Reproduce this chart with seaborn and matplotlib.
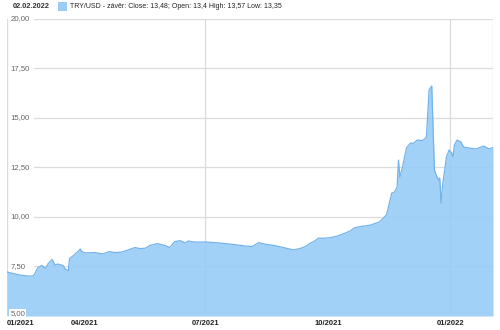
import matplotlib
matplotlib.use("Agg")
import matplotlib.pyplot as plt
import matplotlib.dates as mdates
import seaborn as sns
import pandas as pd

dates = [
    "2021-02-02", "2021-02-08", "2021-02-13", "2021-02-19", "2021-02-22", "2021-02-25",
    "2021-02-28", "2021-03-03", "2021-03-05", "2021-03-08", "2021-03-10", "2021-03-12",
    "2021-03-16", "2021-03-18", "2021-03-20", "2021-03-21", "2021-03-23", "2021-03-27",
    "2021-03-29", "2021-03-30", "2021-04-02", "2021-04-09", "2021-04-15", "2021-04-20",
    "2021-04-24", "2021-04-29", "2021-05-04", "2021-05-09", "2021-05-13", "2021-05-17",
    "2021-05-20", "2021-05-26", "2021-06-01", "2021-06-04", "2021-06-08", "2021-06-12",
    "2021-06-16", "2021-06-18", "2021-06-23", "2021-07-02", "2021-07-08", "2021-07-12",
    "2021-07-23", "2021-07-31", "2021-08-05", "2021-08-10", "2021-08-15", "2021-08-22",
    "2021-08-30", "2021-09-05", "2021-09-10", "2021-09-14", "2021-09-18", "2021-09-21",
    "2021-09-24", "2021-09-27", "2021-10-03", "2021-10-08", "2021-10-14", "2021-10-18",
    "2021-10-21", "2021-10-27", "2021-11-02", "2021-11-09", "2021-11-14", "2021-11-18",
    "2021-11-20", "2021-11-22", "2021-11-23", "2021-11-24", "2021-11-26", "2021-11-29",
    "2021-12-02", "2021-12-04", "2021-12-07", "2021-12-11", "2021-12-14", "2021-12-16",
    "2021-12-17", "2021-12-18", "2021-12-20", "2021-12-22", "2021-12-23", "2021-12-24",
    "2021-12-25", "2021-12-26", "2021-12-29", "2021-12-31", "2022-01-02", "2022-01-03",
    "2022-01-04", "2022-01-06", "2022-01-09", "2022-01-10", "2022-01-11", "2022-01-15",
    "2022-01-20", "2022-01-26", "2022-01-30", "2022-02-02",
]
close = [
    7.22, 7.12, 7.05, 7.01, 7.03, 7.42,
    7.55, 7.40, 7.65, 7.85, 7.57, 7.62,
    7.55, 7.35, 7.28, 7.90, 8.00, 8.23,
    8.38, 8.25, 8.18, 8.20, 8.13, 8.25,
    8.20, 8.22, 8.33, 8.45, 8.40, 8.42,
    8.55, 8.65, 8.55, 8.45, 8.75, 8.80,
    8.68, 8.78, 8.73, 8.73, 8.70, 8.68,
    8.60, 8.53, 8.50, 8.70, 8.62, 8.55,
    8.43, 8.33, 8.40, 8.50, 8.68, 8.78,
    8.93, 8.92, 8.95, 9.03, 9.18, 9.30,
    9.45, 9.53, 9.58, 9.75, 10.10, 11.20,
    11.25, 11.50, 12.86, 12.00, 12.50, 13.47,
    13.72, 13.70, 13.87, 13.85, 14.00, 16.40,
    16.50, 16.60, 12.36, 12.00, 11.86, 11.96,
    10.70, 11.50, 13.02, 13.37, 13.22, 13.02,
    13.62, 13.87, 13.77, 13.62, 13.52, 13.47,
    13.42, 13.57, 13.42, 13.50,
]
ytick_vals = [5, 7.5, 10, 12.5, 15, 17.5, 20]
ytick_labels = ["5,00", "7,50", "10,00", "12,50", "15,00", "17,50", "20,00"]
xtick_dates = ["2021-02-02", "2021-04-01", "2021-07-01", "2021-10-01", "2022-01-01"]
xtick_labels = ["01/2021", "04/2021", "07/2021", "10/2021", "01/2022"]
vgrid_dates = ["2021-07-01", "2022-01-01"]
header_date = "02.02.2022"
legend_text = "TRY/USD - závěr: Close: 13,48; Open: 13,4 High: 13,57 Low: 13,35"

df = pd.DataFrame({"date": pd.to_datetime(dates), "close": close})

sns.set_theme(style="white")
plt.rcParams["font.family"] = ["Liberation Sans", "DejaVu Sans"]

FILL = "#99cdf7"
LINE = "#74b3ea"
GRID = "#dcdcdc"

fig = plt.figure(figsize=(5.0, 3.3), dpi=100)
ax = fig.add_axes([0.014, 0.0424, 0.972, 0.9015])

x0 = pd.Timestamp("2021-02-02")
x1 = pd.Timestamp("2022-02-02")
ax.set_xlim(x0, x1)
ax.set_ylim(5, 20)

for v in ytick_vals[1:]:
    ax.axhline(v, xmin=0.055, xmax=1.0, color=GRID, lw=0.9, zorder=0)
for d in vgrid_dates:
    ax.axvline(pd.Timestamp(d), color=GRID, lw=0.9, zorder=0)
ax.axvline(x0, color=GRID, lw=1.0, zorder=0)
ax.axvline(x1, color=GRID, lw=1.0, zorder=0)

ax.fill_between(df["date"], df["close"], 5, color=FILL, alpha=0.92, lw=0, zorder=1)
sns.lineplot(data=df, x="date", y="close", ax=ax, color=LINE, lw=0.9, zorder=2)

for s in ax.spines.values():
    s.set_visible(False)
ax.set_xlabel("")
ax.set_ylabel("")
ax.set_yticks([])
ax.set_xticks([])

for v, lab in zip(ytick_vals, ytick_labels):
    yy = v + 0.12 if v == 5 else v
    ax.text(0.007, (yy - 5) / 15, lab, transform=ax.transAxes, fontsize=5.6,
            color="#666666", ha="left", va="center", zorder=3,
            bbox=dict(boxstyle="square,pad=0.15", fc="white", ec="none"))

for i, (d, lab) in enumerate(zip(xtick_dates, xtick_labels)):
    xd = mdates.date2num(pd.Timestamp(d))
    ax.text(xd, -0.012, lab, transform=ax.get_xaxis_transform(), fontsize=5.5,
            fontweight="bold", color="#222222", ha="left" if i == 0 else "center",
            va="top")

fig.text(13 / 500, 1 - 6.5 / 330, header_date, fontsize=5.3, fontweight="bold",
         color="#333333", ha="left", va="center")
fig.patches.append(plt.Rectangle((58 / 500, 1 - 11 / 330), 9 / 500, 9 / 330,
                                 transform=fig.transFigure, fc=FILL, ec="none"))
fig.text(70 / 500, 1 - 6.5 / 330, legend_text, fontsize=5.0, color="#222222",
         ha="left", va="center")

fig.savefig("out.png", dpi=100)
